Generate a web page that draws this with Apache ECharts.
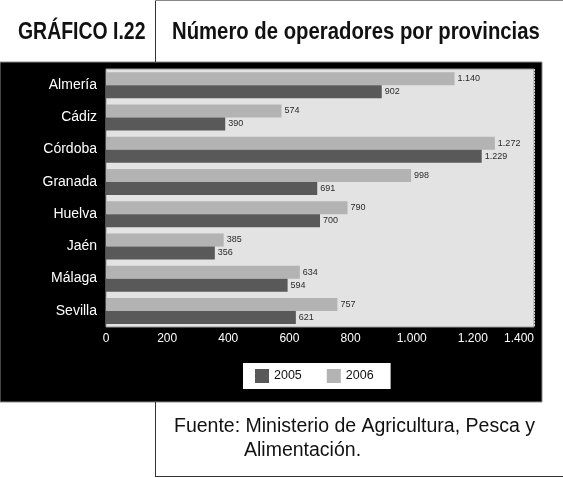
<!DOCTYPE html>
<html>
<head>
<meta charset="utf-8">
<script src="https://cdn.jsdelivr.net/npm/echarts@6/dist/echarts.min.js"></script>
<style>
html,body{margin:0;padding:0;background:#fff;}
#chart{width:563px;height:478px;}
</style>
</head>
<body>
<div id="chart"></div>
<script>
const categories = ['Almería','Cádiz','Córdoba','Granada','Huelva','Jaén','Málaga','Sevilla'];
const values2005 = [902,390,1229,691,700,356,594,621];
const values2006 = [1140,574,1272,998,790,385,634,757];
const seriesNames = ['2005','2006'];
const titleLeft = 'GRÁFICO I.22';
const titleRight = 'Número de operadores por provincias';
const sourceLine1 = 'Fuente: Ministerio de Agricultura, Pesca y';
const sourceLine2 = 'Alimentación.';

function fmt(v){
  return String(v).replace(/\B(?=(\d{3})+(?!\d))/g,'.');
}

const chart = echarts.init(document.getElementById('chart'), null, {renderer:'canvas'});
const FONT = 'Liberation Sans, Arial, sans-serif';
const labelStyle = {show:true, position:'right', distance:3, fontSize:9, color:'#2a2a2a', fontFamily:FONT, formatter:p=>fmt(p.value)};

chart.setOption({
  backgroundColor:'#fff',
  animation:false,
  grid:{left:106, right:29, top:69, bottom:151, show:true, backgroundColor:'#e3e3e3', borderColor:'#9a9a9a', borderWidth:1, z:2},
  legend:{
    data:seriesNames, left:243, top:363, orient:'horizontal',
    backgroundColor:'#fff', padding:[6,17,6,12], itemWidth:14, itemHeight:14, itemGap:25,
    icon:'rect', textStyle:{fontSize:12.5, color:'#111', fontFamily:FONT}
  },
  xAxis:{
    type:'value', min:0, max:1400, interval:200,
    axisLine:{show:false}, axisTick:{show:false},
    axisLabel:{color:'#fff', fontSize:12, fontFamily:FONT, margin:6, formatter:v=>fmt(v), alignMaxLabel:'right'},
    splitLine:{show:true, lineStyle:{color:'#fff', type:[2,1], width:1}}
  },
  yAxis:{
    type:'category', data:categories, inverse:true,
    axisLine:{show:false}, axisTick:{show:false},
    axisLabel:{color:'#fff', fontSize:14, fontFamily:FONT, margin:9}
  },
  series:[
    {name:seriesNames[1], type:'bar', data:values2006, barWidth:13, barGap:'0%', itemStyle:{color:'#b3b3b3'}, label:labelStyle, z:3},
    {name:seriesNames[0], type:'bar', data:values2005, barWidth:13, barGap:'0%', itemStyle:{color:'#595959'}, label:labelStyle, z:3}
  ],
  graphic:{elements:[
    {type:'rect', z:-10, shape:{x:0, y:62, width:542, height:340}, style:{fill:'#000', stroke:'#8a8a8a', lineWidth:1}},
    {type:'line', z:1, shape:{x1:155.5, y1:0, x2:155.5, y2:62}, style:{stroke:'#333', lineWidth:1}},
    {type:'line', z:1, shape:{x1:155, y1:0.5, x2:563, y2:0.5}, style:{stroke:'#888', lineWidth:1}},
    {type:'line', z:1, shape:{x1:155.5, y1:402, x2:155.5, y2:477}, style:{stroke:'#333', lineWidth:1}},
    {type:'line', z:1, shape:{x1:155, y1:476.5, x2:563, y2:476.5}, style:{stroke:'#333', lineWidth:1}},
    {type:'text', z:1, x:18, y:32, scaleX:0.81, style:{x:0, y:0, text:titleLeft, font:'bold 24px '+FONT, fill:'#111', textVerticalAlign:'middle'}},
    {type:'text', z:1, x:172, y:32, scaleX:0.846, style:{x:0, y:0, text:titleRight, font:'bold 24px '+FONT, fill:'#111', textVerticalAlign:'middle'}},
    {type:'text', z:1, x:174, y:427, style:{x:0, y:0, text:sourceLine1, font:'19.5px '+FONT, fill:'#111', textVerticalAlign:'middle'}},
    {type:'text', z:1, x:244, y:451, style:{x:0, y:0, text:sourceLine2, font:'19.5px '+FONT, fill:'#111', textVerticalAlign:'middle'}}
  ]}
});
</script>
</body>
</html>
